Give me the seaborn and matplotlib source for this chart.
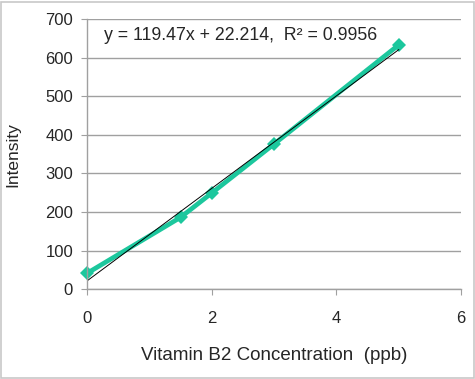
import matplotlib
matplotlib.use("Agg")
import matplotlib.pyplot as plt
import numpy as np
import pandas as pd
import seaborn as sns

# calibration data
conc = [0, 1.5, 2, 3, 5]
intensity = [41, 186, 249, 376, 633]
x_ticks = [0, 2, 4, 6]
y_ticks = [0, 100, 200, 300, 400, 500, 600, 700]

df = pd.DataFrame({"conc": conc, "intensity": intensity})

sns.set_style("white")
plt.rcParams['font.family'] = ['Liberation Sans', 'DejaVu Sans']

fig = plt.figure(figsize=(4.75, 3.79), dpi=100)
ax = fig.add_axes([0.183, 0.237, 0.788, 0.713])

# data series
sns.lineplot(data=df, x="conc", y="intensity", ax=ax, color="#1cc79d",
             linewidth=3.4, marker="D", markersize=7.5, markeredgewidth=0, clip_on=False)
# linear trendline
sns.regplot(data=df, x="conc", y="intensity", ax=ax, scatter=False, ci=None,
            line_kws={"color": "black", "linewidth": 0.7})

ax.text(0.045, 0.94, "y = 119.47x + 22.214,  R\u00b2 = 0.9956", transform=ax.transAxes,
        fontsize=12.8, va="center", ha="left")

ax.set_xlim(0, 6)
ax.set_ylim(0, 700)
ax.set_xticks(x_ticks)
ax.set_yticks(y_ticks)
ax.yaxis.grid(True, color="#a0a0a0", linewidth=1)
ax.set_axisbelow(True)
for s in ["top", "right"]:
    ax.spines[s].set_visible(False)
for s in ["left", "bottom"]:
    ax.spines[s].set_color("#a0a0a0")
    ax.spines[s].set_linewidth(1)
ax.tick_params(axis="both", direction="out", length=4, color="#a0a0a0",
               labelsize=12, bottom=True, left=True)
ax.tick_params(axis="x", pad=12)
ax.tick_params(axis="y", pad=6)
ax.set_xlabel("Vitamin B2 Concentration  (ppb)", fontsize=13.5, labelpad=15)
ax.set_ylabel("Intensity", fontsize=12.5, labelpad=18)

# light grey frame around the whole chart
fig.patches.append(plt.Rectangle((0.002, 0.003), 0.995, 0.993, transform=fig.transFigure,
                                 fill=False, edgecolor="#c8c8c8", linewidth=1.2))

fig.savefig("out.png", dpi=100)
